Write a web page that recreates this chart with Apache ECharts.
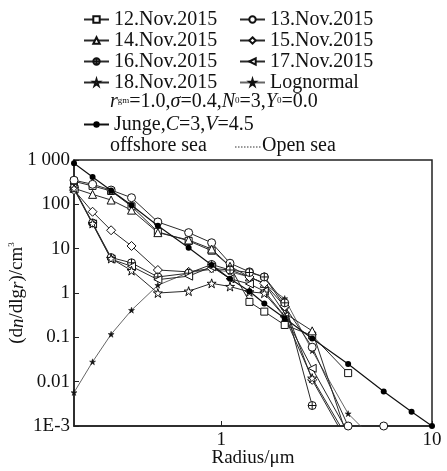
<!DOCTYPE html>
<html><head><meta charset="utf-8">
<script src="https://cdn.jsdelivr.net/npm/echarts@6/dist/echarts.min.js"></script>
<style>html,body{margin:0;padding:0;background:#fff}#c{width:447px;height:471px}</style>
</head><body><div id="c"></div>
<script>
// ---- data ----
var radius = [0.2, 0.245, 0.3, 0.375, 0.5, 0.7, 0.9, 1.1, 1.36, 1.6, 2.0, 2.7, 4.0, 5.9, 8.0, 10];
var nov12 = [330, 260, 200, 90, 24, 15, 9, 4.0, 0.63, 0.38, 0.19, 0.11, 0.0156];
var nov13 = [350, 283, 210, 141, 40, 23, 13.6, 4.7, 3.0, 2.3, 0.5, 0.06, 0.001, 0.001];
var nov14 = [230, 168, 125, 74, 23, 15.7, 9.8, 4.0, 2.3, 1.65, 0.35, 0.14, 0.0005];
var nov15 = [210, 68, 26, 11.5, 3.3, 3.0, 3.6, 3.3, 2.3, 1.65, 0.5, 0.011, 0.0004];
var nov16 = [235, 38, 6.3, 4.8, 2.3, 2.8, 4.4, 3.3, 2.9, 2.3, 0.6, 0.0029];
var nov17 = [220, 36, 5.8, 4.0, 2.0, 2.4, 3.9, 2.1, 1.6, 1.1, 0.3, 0.02, 0.0007];
var nov18 = [230, 37, 6.0, 3.2, 1.0, 1.1, 1.65, 1.4, 1.06, 0.99, 0.29, 0.012, 0.0005];
var lognormal = [0.0057, 0.028, 0.117, 0.41, 1.5, 2.9, 3.4, 3.0, 2.3, 1.6, 0.75, 0.05, 0.0019, 0.0003];
var junge = [840, 415, 205, 95, 33, 10.5, 4.3, 2.1, 1.1, 0.58, 0.27, 0.094, 0.025, 0.006, 0.0021, 0.001];
var yTickLabels = {'-3': '1E-3', '-2': '0.01', '-1': '0.1', '0': '1', '1': '10', '2': '100', '3': '1 000'};
var xTickLabels = {'0': '1', '1': '10'};

function pairs(vals) { return vals.map(function (v, i) { return [radius[i], v]; }); }

var STAR = 'path://M0,-100L22,-31L95,-31L36,12L59,81L0,38L-59,81L-36,12L-95,-31L-22,-31Z';
var CROSSC = 'path://M0,-50A50,50,0,1,1,0,50A50,50,0,1,1,0,-50ZM-50,0L50,0M0,-50L0,50';
var FONT = '"Liberation Serif", "Times New Roman", serif';

function mseries(name, vals, symbol, size, rot) {
  return {
    name: name, type: 'line', data: pairs(vals), symbol: symbol, symbolSize: size,
    symbolRotate: rot || 0,
    lineStyle: { color: '#2a2a2a', width: 1 },
    itemStyle: { color: '#fff', borderColor: '#111', borderWidth: 1 },
    clip: true, z: 3
  };
}

var series = [
  mseries('12.Nov.2015', nov12, 'rect', 7),
  mseries('13.Nov.2015', nov13, 'circle', 8),
  mseries('14.Nov.2015', nov14, 'triangle', 8),
  mseries('15.Nov.2015', nov15, 'diamond', 9),
  mseries('16.Nov.2015', nov16, CROSSC, 8),
  mseries('17.Nov.2015', nov17, 'triangle', 8, 90),
  mseries('18.Nov.2015', nov18, STAR, 9),
  {
    name: 'Lognormal', type: 'line', data: pairs(lognormal), symbol: STAR, symbolSize: 6,
    lineStyle: { color: '#666', width: 1 },
    itemStyle: { color: '#111', borderColor: '#111', borderWidth: 0.5 }, clip: true, z: 2
  },
  {
    name: 'Junge', type: 'line', data: pairs(junge), symbol: 'circle', symbolSize: 6,
    lineStyle: { color: '#111', width: 1.2 },
    itemStyle: { color: '#000' }, clip: true, z: 4
  }
];

var legendText = { fontFamily: FONT, fontSize: 20, color: '#111', lineHeight: 21 };
var chart = echarts.init(document.getElementById('c'), null, { renderer: 'canvas' });
chart.setOption({
  animation: false,
  backgroundColor: '#fff',
  grid: { left: 74, right: 15, top: 160, bottom: 45, show: true, borderColor: '#222', borderWidth: 1.5,
    backgroundColor: 'transparent', containLabel: false, outerBoundsMode: 'none' },
  legend: [
    { data: ['12.Nov.2015', '14.Nov.2015', '16.Nov.2015', '18.Nov.2015'], orient: 'vertical', left: 78, top: 4,
      itemWidth: 25, itemHeight: 8, itemGap: 0, textStyle: legendText, selectedMode: false },
    { data: ['13.Nov.2015', '15.Nov.2015', '17.Nov.2015', 'Lognormal'], orient: 'vertical', left: 234, top: 4,
      itemWidth: 25, itemHeight: 8, itemGap: 0, textStyle: legendText, selectedMode: false },
    { data: ['Junge'], orient: 'vertical', left: 78, top: 109, itemWidth: 25, itemHeight: 8,
      selectedMode: false,
      formatter: function () { return 'Junge,{i|C}=3,{i|V}=4.5'; },
      textStyle: { fontFamily: FONT, fontSize: 20, color: '#111', lineHeight: 21,
        rich: { i: { fontFamily: FONT, fontSize: 20, fontStyle: 'italic', color: '#111' } } } }
  ],
  graphic: [
    { type: 'text', left: 110, top: 92, style: {
        text: '{i|r}{s|gm}=1.0,{i|σ}=0.4,{i|N}{s|0}=3,{i|Y}{s|0}=0.0',
        font: '20px ' + FONT, fill: '#111',
        rich: {
          i: { fontFamily: FONT, fontSize: 20, fontStyle: 'italic', fill: '#111', height: 22, verticalAlign: 'middle' },
          s: { fontFamily: FONT, fontSize: 9, fill: '#111', height: 22, verticalAlign: 'bottom', padding: [0, 0, 3, 0] }
        } } },
    { type: 'text', left: 110, top: 136, style: { text: 'offshore sea', font: '20px ' + FONT, fill: '#111' } },
    { type: 'line', shape: { x1: 235, y1: 147, x2: 261, y2: 147 }, style: { stroke: '#333', lineWidth: 1, lineDash: [1.5, 1.5] } },
    { type: 'text', left: 262, top: 136, style: { text: 'Open sea', font: '20px ' + FONT, fill: '#111' } }
  ],
  xAxis: {
    type: 'log', logBase: 10, min: 0.2, max: 10,
    name: 'Radius/μm', nameLocation: 'middle', nameGap: 23, nameMoveOverlap: false,
    nameTextStyle: { fontFamily: FONT, fontSize: 19, color: '#111' },
    axisLine: { show: true, lineStyle: { color: '#222', width: 1.5 } },
    axisTick: { show: true, inside: true, length: 5, lineStyle: { color: '#222' } },
    minorTick: { show: false }, splitLine: { show: false },
    axisLabel: { fontFamily: FONT, fontSize: 19, color: '#111', margin: 5,
      showMinLabel: false,
      formatter: function (v) { var k = String(Math.round(Math.log10(v))); return Math.abs(Math.log10(v) - Math.round(Math.log10(v))) < 1e-6 && xTickLabels[k] ? xTickLabels[k] : ''; } }
  },
  yAxis: {
    type: 'log', logBase: 10, min: 0.001, max: 1000,
    name: '(d{i|n}/dlg{i|r})/cm{sup|3}', nameLocation: 'middle', nameGap: 46, nameRotate: 90, nameMoveOverlap: false,
    nameTextStyle: { fontFamily: FONT, fontSize: 19, color: '#111',
      rich: { i: { fontFamily: FONT, fontSize: 19, fontStyle: 'italic', color: '#111' },
              sup: { fontFamily: FONT, fontSize: 9, color: '#111', verticalAlign: 'top', padding: [0, 0, 12, 0] } } },
    axisLine: { show: true, lineStyle: { color: '#222', width: 1.5 } },
    axisTick: { show: true, inside: true, length: 5, lineStyle: { color: '#222' } },
    minorTick: { show: false }, splitLine: { show: false },
    axisLabel: { fontFamily: FONT, fontSize: 19, color: '#111', margin: 4,
      formatter: function (v) { return yTickLabels[String(Math.round(Math.log10(v)))] || ''; } }
  },
  series: series
});
</script></body></html>
